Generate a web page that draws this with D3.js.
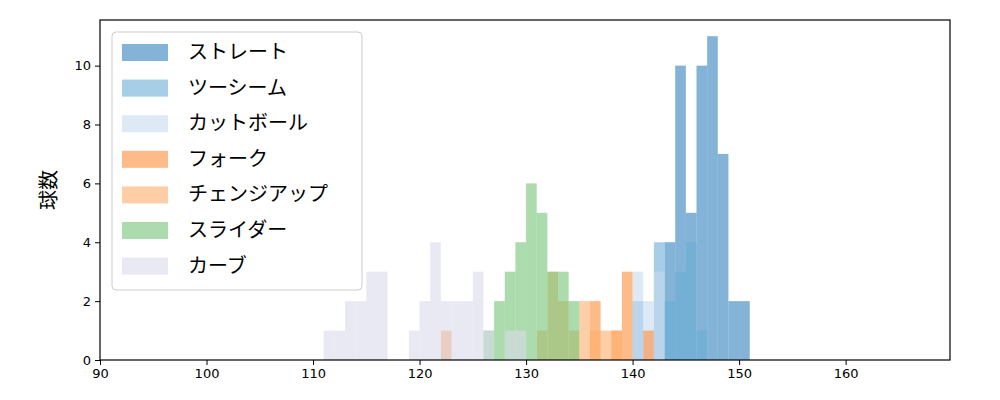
<!DOCTYPE html>
<html><head><meta charset="utf-8">
<script src="https://cdn.jsdelivr.net/npm/d3@7"></script>
<style>body{margin:0;background:#fff;font-family:"Noto Sans CJK JP","DejaVu Sans",sans-serif;}</style>
</head><body><svg id="c" width="1000" height="400"></svg>
<script>
// pitch types and colours (tab20c, drawn at 0.6 alpha)
const pitchNames = ["ストレート","ツーシーム","カットボール","フォーク","チェンジアップ","スライダー","カーブ"];
const pitchColors = ["#3182bd","#6baed6","#c6dbef","#fd8d3c","#fdae6b","#74c476","#dadaeb"];
// histogram bins: [bin start (km/h), count], width 1
const straight = [[143,4],[144,10],[145,5],[146,10],[147,11],[148,7],[149,2],[150,2]];
const twoSeam = [[140,2],[142,4],[143,2],[144,3],[145,4],[146,1]];
const cutter = [[140,3],[141,2],[142,3]];
const fork = [[122,1],[136,2],[138,1],[139,3],[141,1]];
const changeup = [[131,1],[132,3],[133,2],[134,1],[135,2],[136,1],[137,1],[138,1]];
const slider = [[126,1],[127,2],[128,3],[129,4],[130,6],[131,5],[132,3],[133,3],[134,2]];
const curve = [[111,1],[112,1],[113,2],[114,2],[115,3],[116,3],[119,1],[120,2],[121,4],[122,2],[123,2],[124,2],[125,3],[126,1],[128,1],[129,1]];
const series = [straight, twoSeam, cutter, fork, changeup, slider, curve];
const xTicks = [90,100,110,120,130,140,150,160];
const yTicks = [0,2,4,6,8,10];

const svg = d3.select("#c");
const m = {l:100, r:950, t:20, b:360};
const x = d3.scaleLinear().domain([90,169.8]).range([m.l,m.r]);
const y = d3.scaleLinear().domain([0,11.55]).range([m.b,m.t]);

series.forEach((s,i)=>{
    svg.append("g").selectAll("rect").data(s).join("rect")
        .attr("x", d=>x(d[0])).attr("width", d=>x(d[0]+1)-x(d[0]))
        .attr("y", d=>y(d[1])).attr("height", d=>y(0)-y(d[1]))
        .attr("fill", pitchColors[i]).attr("fill-opacity",0.6);
});

svg.append("g").attr("transform",`translate(0,${m.b})`)
    .call(d3.axisBottom(x).tickValues(xTicks).tickSize(5).tickPadding(4))
    .call(g=>g.selectAll("text").attr("font-size",13).attr("fill","#000").style("font-family","DejaVu Sans"));
svg.append("g").attr("transform",`translate(${m.l},0)`)
    .call(d3.axisLeft(y).tickValues(yTicks).tickSize(5).tickPadding(4))
    .call(g=>g.selectAll("text").attr("font-size",13).attr("fill","#000").style("font-family","DejaVu Sans"));
svg.selectAll(".domain").remove();
svg.append("rect").attr("x",m.l).attr("y",m.t).attr("width",m.r-m.l).attr("height",m.b-m.t)
    .attr("fill","none").attr("stroke","#000").attr("stroke-width",1.2);

svg.append("text").attr("transform","translate(56,190) rotate(-90)")
    .attr("text-anchor","middle").attr("font-size",20).text("球数");

// legend
const lg = svg.append("g");
lg.append("rect").attr("x",112).attr("y",32).attr("width",250).attr("height",258).attr("rx",4)
    .attr("fill","#fff").attr("fill-opacity",0.8).attr("stroke","#ccc");
pitchNames.forEach((n,i)=>{
    const yy = 52 + i*35.6;
    lg.append("rect").attr("x",122).attr("y",yy-8).attr("width",46).attr("height",17)
        .attr("fill",pitchColors[i]).attr("fill-opacity",0.6);
    lg.append("text").attr("x",188).attr("y",yy+7).attr("font-size",20).text(n);
});
</script></body></html>
